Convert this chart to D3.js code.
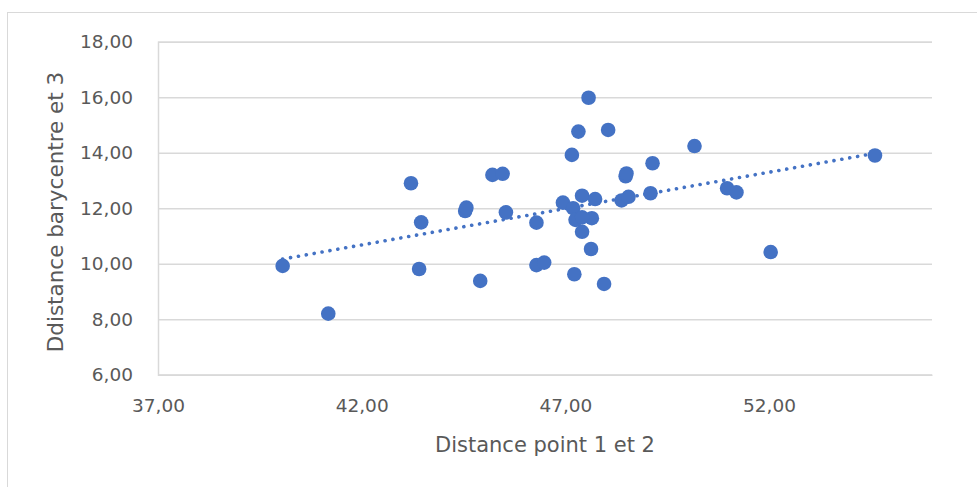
<!DOCTYPE html>
<html>
<head>
<meta charset="utf-8">
<script src="https://cdn.jsdelivr.net/npm/d3@7"></script>
<style>
html,body{margin:0;padding:0;background:#fff;}
svg{display:block;}
</style>
</head>
<body>
<svg id="chart" width="977" height="487"></svg>
<script>
// Data
const xValues = [40.06, 41.18, 43.21, 43.46, 43.41, 44.54, 44.57, 44.91, 45.21, 45.46,
                 45.54, 46.29, 46.29, 46.48, 46.94, 47.16, 47.32, 47.57, 48.05, 47.22,
                 47.95, 47.63, 47.41, 47.19, 47.25, 47.65, 47.41, 47.73, 48.48, 48.50,
                 49.14, 48.38, 48.55, 49.09, 50.17, 50.97, 51.20, 52.04, 54.60, 47.41];
const yValues = [9.92, 8.20, 12.90, 11.49, 9.81, 11.90, 12.02, 9.38, 13.20, 13.24,
                 11.85, 11.48, 9.95, 10.04, 12.20, 13.92, 14.76, 15.98, 14.82, 9.62,
                 9.27, 10.53, 11.15, 12.00, 11.58, 11.64, 12.45, 12.33, 13.15, 13.25,
                 13.62, 12.28, 12.41, 12.54, 14.24, 12.72, 12.57, 10.42, 13.90, 11.67];
const xTicks = [37, 42, 47, 52];
const yTicks = [6, 8, 10, 12, 14, 16, 18];
const xDomain = [37, 56];
const yDomain = [6, 18];
const xTitle = "Distance point 1 et 2";
const yTitle = "Ddistance barycentre et 3";

const svg = d3.select("#chart");
const W = 977, H = 487;
const m = {left: 158, right: W - 932, top: 41.7, bottom: H - 374.7};
const fmt = v => d3.format(".2f")(v).replace(".", ",");

const x = d3.scaleLinear().domain(xDomain).range([m.left, W - m.right]);
const y = d3.scaleLinear().domain(yDomain).range([H - m.bottom, m.top]);

// chart border
svg.append("rect").attr("x", 7.5).attr("y", 12.5).attr("width", 990).attr("height", 500)
  .attr("fill", "none").attr("stroke", "#d9d9d9").attr("stroke-width", 1);

// horizontal gridlines via axis
const yAxis = svg.append("g").attr("transform", `translate(${m.left},0)`)
  .call(d3.axisLeft(y).tickValues(yTicks).tickFormat(fmt)
        .tickSize(-(W - m.left - m.right)).tickPadding(25));
yAxis.select(".domain").attr("stroke", "#d9d9d9").attr("stroke-width", 1.5);
yAxis.selectAll(".tick line").attr("stroke", "#d9d9d9").attr("stroke-width", 1.5);
yAxis.selectAll(".tick text").attr("fill", "#595959")
  .style("font-family", "'DejaVu Sans', sans-serif").style("font-size", "18.5px");

const xAxis = svg.append("g").attr("transform", `translate(0,${H - m.bottom})`)
  .call(d3.axisBottom(x).tickValues(xTicks).tickFormat(fmt).tickSize(0).tickPadding(24));
xAxis.select(".domain").attr("stroke", "#d9d9d9").attr("stroke-width", 1.5);
xAxis.selectAll(".tick text").attr("fill", "#595959")
  .style("font-family", "'DejaVu Sans', sans-serif").style("font-size", "18.5px");

// linear trendline (least squares)
const n = xValues.length;
const mx = d3.mean(xValues), my = d3.mean(yValues);
let sxy = 0, sxx = 0;
for (let i = 0; i < n; i++) { sxy += (xValues[i]-mx)*(yValues[i]-my); sxx += (xValues[i]-mx)**2; }
const slope = sxy / sxx, intercept = my - slope * mx;
const xr = d3.extent(xValues);
svg.append("line")
  .attr("x1", x(xr[0])).attr("y1", y(slope*xr[0]+intercept))
  .attr("x2", x(xr[1])).attr("y2", y(slope*xr[1]+intercept))
  .attr("stroke", "#4472C4").attr("stroke-width", 3.6)
  .attr("stroke-linecap", "round").attr("stroke-dasharray", "0.1 7.9");

// points
svg.append("g").selectAll("circle").data(d3.range(n)).join("circle")
  .attr("cx", i => x(xValues[i])).attr("cy", i => y(yValues[i]))
  .attr("r", 7.3).attr("fill", "#4472C4");

// titles
svg.append("text").attr("x", 545).attr("y", 452).attr("text-anchor", "middle")
  .attr("fill", "#595959").style("font-family", "'DejaVu Sans', sans-serif")
  .style("font-size", "21px").text(xTitle);
svg.append("text").attr("transform", "translate(63,212) rotate(-90)")
  .attr("text-anchor", "middle")
  .attr("fill", "#595959").style("font-family", "'DejaVu Sans', sans-serif")
  .style("font-size", "21.5px").text(yTitle);
</script>
</body>
</html>
